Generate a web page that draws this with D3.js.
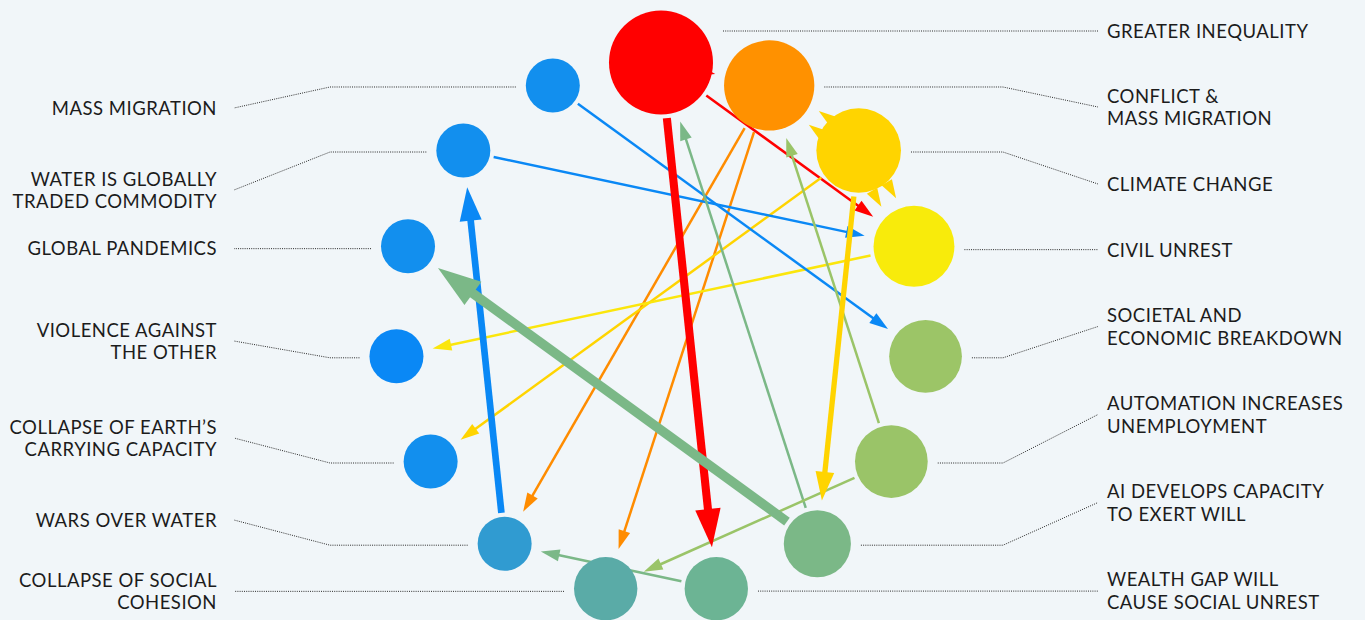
<!DOCTYPE html>
<html><head><meta charset="utf-8">
<script src="https://cdn.jsdelivr.net/npm/d3@7"></script>
<style>
html,body{margin:0;padding:0;background:#F1F6F9;overflow:hidden;}
svg{display:block;}
</style>
</head><body>
<svg id="chart" width="1365" height="620"></svg>
<script>
// ---------- DATA ----------
const nodeNames = [
  "Greater inequality", "Conflict & mass migration", "Climate change", "Civil unrest",
  "Societal and economic breakdown", "Automation increases unemployment",
  "AI develops capacity to exert will", "Wealth gap will cause social unrest",
  "Collapse of social cohesion", "Wars over water", "Collapse of Earth's carrying capacity",
  "Violence against the other", "Global pandemics", "Water is globally traded commodity",
  "Mass migration"
];
const nodeLabels = [
  ["GREATER INEQUALITY"], ["CONFLICT &", "MASS MIGRATION"], ["CLIMATE CHANGE"], ["CIVIL UNREST"],
  ["SOCIETAL AND", "ECONOMIC BREAKDOWN"], ["AUTOMATION INCREASES", "UNEMPLOYMENT"],
  ["AI DEVELOPS CAPACITY", "TO EXERT WILL"], ["WEALTH GAP WILL", "CAUSE SOCIAL UNREST"],
  ["COLLAPSE OF SOCIAL", "COHESION"], ["WARS OVER WATER"], ["COLLAPSE OF EARTH\u2019S", "CARRYING CAPACITY"],
  ["VIOLENCE AGAINST", "THE OTHER"], ["GLOBAL PANDEMICS"], ["WATER IS GLOBALLY", "TRADED COMMODITY"],
  ["MASS MIGRATION"]
];
const nodeScores = [10, 7.8, 6.9, 6.3, 5, 5, 4.1, 3.5, 3.5, 2, 2, 2, 2, 2, 2];
const nodeColors = ["#FF0000", "#FF9100", "#FFD400", "#F8EB0B", "#9CC567", "#9AC468", "#7BB887",
  "#6CB494", "#5AABA7", "#309BD1", "#128FEE", "#0A88F5", "#128FEE", "#128FEE", "#128FEE"];
const linkColors = ["#FF0000", "#FF8C00", "#FFD400", "#FBE60C", "#9CC567", "#9AC468", "#7BB887",
  "#7BB887", "#5AABA7", "#0A88F5", "#128FEE", "#0A88F5", "#128FEE", "#0A88F5", "#0A88F5"];
// [source, target, strength]
const links = [
  ["Greater inequality", "Wealth gap will cause social unrest", 3],
  ["Greater inequality", "Civil unrest", 1],
  ["Greater inequality", "Conflict & mass migration", 1],
  ["Conflict & mass migration", "Wars over water", 1],
  ["Conflict & mass migration", "Collapse of social cohesion", 1],
  ["Climate change", "Collapse of Earth's carrying capacity", 1],
  ["Climate change", "AI develops capacity to exert will", 2],
  ["Climate change", "Conflict & mass migration", 1],
  ["Climate change", "Conflict & mass migration", 1],
  ["Climate change", "Civil unrest", 1],
  ["Climate change", "Civil unrest", 1],
  ["Civil unrest", "Violence against the other", 1],
  ["Mass migration", "Societal and economic breakdown", 1],
  ["Water is globally traded commodity", "Civil unrest", 1],
  ["Wars over water", "Water is globally traded commodity", 2.5],
  ["AI develops capacity to exert will", "Greater inequality", 1],
  ["AI develops capacity to exert will", "Global pandemics", 3.5],
  ["Automation increases unemployment", "Conflict & mass migration", 1],
  ["Automation increases unemployment", "Collapse of social cohesion", 1],
  ["Wealth gap will cause social unrest", "Wars over water", 1]
];

// ---------- LAYOUT ----------
const W = 1365, H = 620;
const cx = 661, cy = 328.5, R = 266;
const svg = d3.select("#chart");
svg.append("rect").attr("width", W).attr("height", H).attr("fill", "#F1F6F9");

const angle = d3.scaleBand().domain(nodeNames).range([0, 2 * Math.PI]);
const rScale = d3.scaleLinear().domain([2, 10]).range([27, 52]);
const wScale = d3.scaleLinear().domain([1, 3.5]).range([2.5, 9.5]);

const nodes = nodeNames.map((name, i) => {
  const a = angle(name);
  return {
    name, i, label: nodeLabels[i], color: nodeColors[i], lcolor: linkColors[i],
    r: rScale(nodeScores[i]),
    x: cx + R * Math.sin(a), y: cy - R * Math.cos(a),
    side: i <= 7 ? "right" : "left"
  };
});
const byName = new Map(nodes.map(d => [d.name, d]));

// label placement (line centres) on each side
const labelLines = {
  "Greater inequality": [31], "Conflict & mass migration": [96, 118], "Climate change": [184],
  "Civil unrest": [250], "Societal and economic breakdown": [315, 338],
  "Automation increases unemployment": [403, 426], "AI develops capacity to exert will": [491, 514],
  "Wealth gap will cause social unrest": [579, 602], "Collapse of social cohesion": [580, 602],
  "Wars over water": [520], "Collapse of Earth's carrying capacity": [427, 449],
  "Violence against the other": [330, 352], "Global pandemics": [248],
  "Water is globally traded commodity": [179, 201], "Mass migration": [108]
};
const straightLeaders = new Set(["Greater inequality", "Civil unrest", "Wealth gap will cause social unrest",
  "Collapse of social cohesion", "Global pandemics"]);
const rightTextX = 1107, leftTextX = 217;
const rightElbow = 1003, leftElbow = 330;
const rightEnd = 1098, leftEnd = 234;

// ---------- LEADERS ----------
const gLead = svg.append("g");
nodes.forEach(d => {
  const ys = labelLines[d.name];
  const ly = d3.mean(ys);
  let pts;
  const dir = d.side === "right" ? 1 : -1;
  const sx = d.x + dir * (d.r + 10);
  if (straightLeaders.has(d.name)) {
    const yy = d.name === "Greater inequality" ? ly : (ly + d.y) / 2 + 1.5;
    pts = [[sx, yy], [d.side === "right" ? rightEnd : leftEnd, yy]];
  } else {
    const ex = d.side === "right" ? rightElbow : leftElbow;
    pts = [[sx, d.y + 1.5], [ex, d.y + 1.5], [d.side === "right" ? rightEnd : leftEnd, ly]];
  }
  gLead.append("path")
    .attr("d", d3.line()(pts))
    .attr("fill", "none").attr("stroke", "#2a2a2a").attr("stroke-width", 1)
    .attr("stroke-dasharray", "1,1.2");
});

// ---------- LINKS ----------
const gLinks = svg.append("g");
const pairCount = d3.rollup(links, v => v.length, l => l[0] + "|" + l[1]);
const pairSeen = new Map();
const linkData = links.map(([s, t, w]) => {
  const key = s + "|" + t;
  const k = pairSeen.get(key) || 0; pairSeen.set(key, k + 1);
  return { s: byName.get(s), t: byName.get(t), w, k, n: pairCount.get(key) };
});
linkData.sort((a, b) => a.w - b.w);
linkData.forEach(l => {
  const dx = l.t.x - l.s.x, dy = l.t.y - l.s.y;
  const len = Math.hypot(dx, dy);
  const ux = dx / len, uy = dy / len, px = -uy, py = ux;
  const off = (l.k - (l.n - 1) / 2) * 17;
  const sw = wScale(l.w);
  const L = 10 + 3.5 * sw, HW = (6 + 2.4 * sw) / 2;
  const start = [l.s.x + ux * (l.s.r + 4) + px * off, l.s.y + uy * (l.s.r + 4) + py * off];
  const tip = [l.t.x - ux * (l.t.r + 10) + px * off, l.t.y - uy * (l.t.r + 10) + py * off];
  const base = [tip[0] - ux * L, tip[1] - uy * L];
  const along = (base[0] - start[0]) * ux + (base[1] - start[1]) * uy;
  if (along > 0) {
    gLinks.append("line")
      .attr("x1", start[0]).attr("y1", start[1])
      .attr("x2", base[0] + ux * 1).attr("y2", base[1] + uy * 1)
      .attr("stroke", l.s.lcolor).attr("stroke-width", sw);
  }
  gLinks.append("path")
    .attr("d", d3.line()([tip, [base[0] + px * HW, base[1] + py * HW], [base[0] - px * HW, base[1] - py * HW]]) + "Z")
    .attr("fill", l.s.lcolor);
});

// ---------- NODES ----------
svg.append("g").selectAll("circle").data(nodes).join("circle")
  .attr("cx", d => d.x).attr("cy", d => d.y).attr("r", d => d.r)
  .attr("fill", d => d.color);

// ---------- LABELS ----------
const gLab = svg.append("g")
  .attr("font-family", "Lato, 'Open Sans', sans-serif")
  .attr("font-size", 18.5).attr("letter-spacing", 0.5).attr("fill", "#1c1c1c");
nodes.forEach(d => {
  const ys = labelLines[d.name];
  const t = gLab.append("text")
    .attr("text-anchor", d.side === "right" ? "start" : "end");
  d.label.forEach((line, j) => {
    t.append("tspan")
      .attr("x", d.side === "right" ? rightTextX : leftTextX)
      .attr("y", ys[j])
      .attr("dy", "0.36em")
      .text(line);
  });
});
</script>
</body></html>
